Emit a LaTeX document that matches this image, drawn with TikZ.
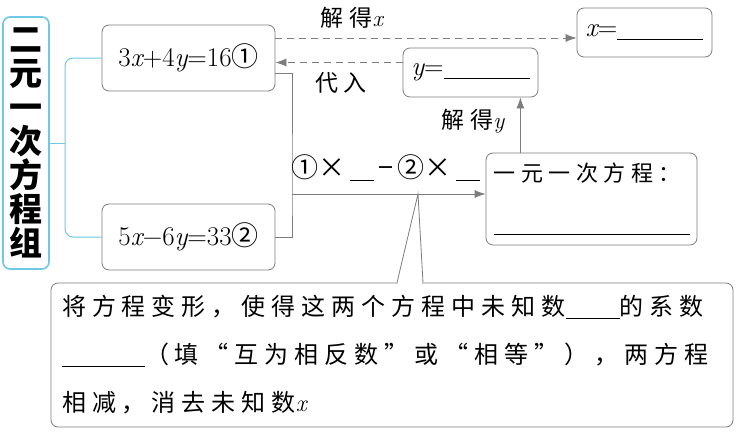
\documentclass[tikz,border=0pt]{standalone}
\usepackage{fontspec}
\usepackage{tikz}
\usetikzlibrary{arrows.meta,calc,positioning}
\newfontfamily\cjk{Noto Sans CJK SC}
\newfontfamily\notecjk[LetterSpace=25]{Noto Sans CJK SC}
\definecolor{linegray}{RGB}{125,125,125}
\definecolor{skyline}{RGB}{110,200,230}
\newcommand{\blank}[1]{\rule[-3pt]{#1}{0.8pt}}
\newcommand{\vx}[1]{{\normalfont\itshape #1}}

\begin{document}
\begin{tikzpicture}[x=1pt, y=-1pt,
  box/.style={draw=linegray, line width=0.8pt, rounded corners=7pt, inner sep=0pt,
    font=\fontsize{27}{30}\selectfont},
  conn/.style={draw=linegray, line width=0.8pt},
  dashconn/.style={conn, dash pattern=on 7pt off 5pt},
  tip/.style={-{Latex[length=11pt,width=8pt]}},
  lbl/.style={inner sep=0pt, font=\fontsize{23}{28}\selectfont\notecjk}]
  \fill[white] (0,0) rectangle (737,434);
  \useasboundingbox (0,0) rectangle (737,434);
  \node[box, draw=skyline, line width=1.6pt, minimum width=46pt, minimum height=252pt,
    align=center, font=\fontsize{33}{34}\selectfont\cjk\bfseries] (group) at (26,143)
    {二\\元\\一\\次\\方\\程\\组};
  \node[box, minimum width=173pt, minimum height=66pt] (eqA) at (188.5,58) {3\vx{x}+4\vx{y}=16\cjk{①}};
  \node[box, minimum width=173pt, minimum height=66pt] (eqB) at (188.5,237) {5\vx{x}−6\vx{y}=33\cjk{②}};
  \node[box, minimum width=135pt, minimum height=49pt] (solx) at (644.5,32.5) {\vx{x}=\blank{86pt}};
  \node[box, minimum width=135pt, minimum height=49pt] (soly) at (470.5,72.5) {\vx{y}=\blank{86pt}};
  \node[box, minimum width=211pt, minimum height=92pt, align=left,
    font=\fontsize{22}{50}\selectfont\notecjk] (onevar) at (591.5,199)
    {一元一次方程：\\\blank{196pt}};
  \node[box, minimum width=682pt, minimum height=144pt, text width=660pt, inner xsep=11pt,
    align=left, font=\fontsize{24}{48}\selectfont\notecjk] (note) at (392,355)
    {将方程变形，使得这两个方程中未知数\blank{54pt}的系数\\
     \blank{83pt}（填“互为相反数”或“相等”），两方程\\
     相减，消去未知数\vx{x}};

  \coordinate (bus) at (65,143);
  \draw[skyline, line width=1pt, rounded corners=8pt] (eqA.west) -| (bus) |- (eqB.west);
  \draw[skyline, line width=1pt] (group.east) -- (bus);

  \coordinate (split) at (292,194);
  \draw[conn] ([yshift=-15pt]eqA.east) -| (split) |- (eqB.east);
  \draw[conn, tip] (split) -- (split -| onevar.west);
  \node[lbl, font=\fontsize{27}{30}\selectfont] (elim) at (386,168)
    {\cjk{①}×\,\blank{24pt}\,−\,\cjk{②}×\,\blank{24pt}};

  \coordinate (xfrom) at ([yshift=20pt]eqA.east);
  \draw[dashconn, tip] (xfrom) -- (xfrom -| solx.west);
  \node[lbl] (solvex) at (352,18) {解得\vx{x}};
  \coordinate (yfrom) at ([yshift=10pt]soly.west);
  \draw[dashconn, tip] (yfrom) -- (yfrom -| eqA.east);
  \node[lbl] (subst) at (341,83) {代入};
  \coordinate (yup) at ([xshift=-18pt]soly.south east);
  \draw[conn, tip] (yup |- onevar.north) -- (yup);
  \node[lbl] (solvey) at (473,121) {解得\vx{y}};

  \coordinate (apex) at (418,194);
  \coordinate (tipL) at ($(note.north)+(5,0)$);
  \coordinate (tipR) at ($(note.north)+(31,0)$);
  \fill[white] ($(tipL)+(1,-2)$) rectangle ($(tipR)+(-1,2)$);
  \draw[conn] (tipL) -- (apex) -- (tipR);
\end{tikzpicture}
\end{document}
